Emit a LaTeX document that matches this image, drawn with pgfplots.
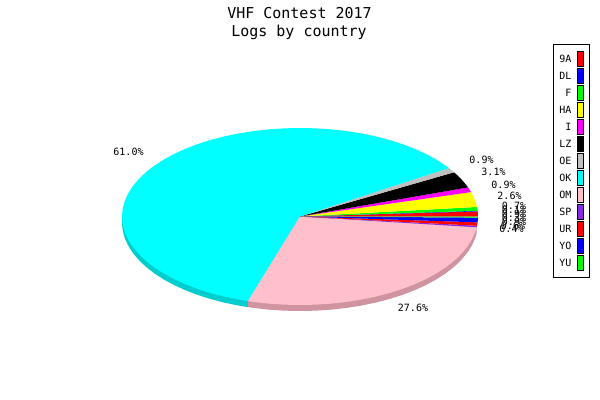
\documentclass[border=0pt]{standalone}
\usepackage{fontspec}
\setmainfont{DejaVu Sans Mono}
\usepackage{pgfplots}
\pgfplotsset{compat=1.18}
\definecolor{sidecyan}{RGB}{0,205,205}
\definecolor{sidepink}{RGB}{208,147,160}
\definecolor{ompink}{RGB}{255,192,203}
\definecolor{oegray}{RGB}{192,192,192}
\definecolor{sppurple}{RGB}{138,43,226}
\definecolor{pieRed}{RGB}{255,0,0}
\definecolor{pieBlue}{RGB}{0,0,255}
\definecolor{pieGreen}{RGB}{0,255,0}
\definecolor{pieYellow}{RGB}{255,255,0}
\definecolor{pieMagenta}{RGB}{255,0,255}
\definecolor{pieCyan}{RGB}{0,255,255}
\pgfplotsset{
  swatch/.style={legend image code/.code={
    \path (0pt,0pt);
    \draw[##1,draw=black,line width=0.75pt] (4.2pt,-5.6pt) rectangle (8.7pt,5.6pt);}},
  wedge/.style={fill=#1,draw=none,swatch},
}
\newcommand{\lab}[2]{\node[font=\fontsize{7.5}{9}\selectfont,inner sep=0pt] at (axis cs:#1) {#2\%};}
\begin{document}
\begin{tikzpicture}
\path[use as bounding box] (0,0) rectangle (450pt,300pt);
\begin{axis}[
    scale only axis,
    width=450pt,
    height=300pt,
    xmin=0, xmax=600,
    ymin=0, ymax=400,
    y dir=reverse,
    hide axis,
    clip=false,
    legend cell align=right,
    legend plot pos=right,
    legend style={
      at={(axis cs:590,43.5)}, anchor=north east,
      draw=black, line width=0.75pt, fill=white,
      inner xsep=4.5pt, inner ysep=4.7pt,
      row sep=0pt,
      font=\fontsize{7.5}{9}\selectfont,
      nodes={inner sep=0pt, text height=9.5pt, text depth=3.25pt},
    },
]
% side walls
\addplot[fill=sidecyan,draw=none,forget plot] coordinates {
  (122,222.5) (122.68,230.21) (124.70,237.87) (128.06,245.41) (132.74,252.77)
  (138.68,259.90) (145.85,266.75) (154.19,273.26) (163.64,279.39) (174.13,285.08)
  (185.58,290.29) (197.90,295.00) (211,299.14) (224.77,302.71) (239.12,305.66)
  (247.96,307.13) (247.96,301.13) (122,216.5)} --cycle;
\addplot[fill=sidepink,draw=none,forget plot] coordinates {
  (247.96,301.13) (247.96,307.13) (253.93,307.98) (269.09,309.66) (284.49,310.66)
  (300,311) (315.51,310.66) (330.91,309.66) (346.07,307.98) (360.88,305.66)
  (375.23,302.71) (389,299.14) (402.10,295.00) (414.42,290.29) (425.87,285.08)
  (436.36,279.39) (445.81,273.26) (454.15,266.75) (461.32,259.90) (467.26,252.77)
  (471.94,245.41) (475.30,237.87) (476.67,233.29) (476.67,227.29) (300,216.5)} --cycle;
% top face, one wedge per country
\addplot[wedge=pieRed] coordinates {(300,216.5) (478,216.5) (477.70,211.41)} --cycle;
\addlegendentry{9A}
\addplot[wedge=pieBlue] coordinates {(300,216.5) (477.70,211.41) (477.63,210.79)} --cycle;
\addlegendentry{DL}
\addplot[wedge=pieGreen] coordinates {(300,216.5) (477.63,210.79) (476.96,206.94)} --cycle;
\addlegendentry{F}
\addplot[wedge=pieYellow] coordinates {(300,216.5) (476.96,206.94) (475.30,201.13) (471.94,193.59) (471.10,192.11)} --cycle;
\addlegendentry{HA}
\addplot[wedge=pieMagenta] coordinates {(300,216.5) (471.10,192.11) (468.10,187.40)} --cycle;
\addlegendentry{I}
\addplot[wedge=black] coordinates {(300,216.5) (468.10,187.40) (467.26,186.23) (461.32,179.10) (454.15,172.25)} --cycle;
\addlegendentry{LZ}
\addplot[wedge=oegray] coordinates {(300,216.5) (454.15,172.25) (448.94,168.05)} --cycle;
\addlegendentry{OE}
\addplot[wedge=pieCyan] coordinates {
  (300,216.5) (448.94,168.05) (445.81,165.74) (436.36,159.61) (425.87,153.92) (414.42,148.71)
  (402.10,144.00) (389.00,139.86) (375.23,136.29) (360.88,133.34) (346.07,131.02)
  (330.91,129.34) (315.51,128.34) (300,128) (284.49,128.34) (269.09,129.34)
  (253.93,131.02) (239.12,133.34) (224.77,136.29) (211,139.86) (197.90,144.00)
  (185.58,148.71) (174.13,153.92) (163.64,159.61) (154.19,165.74) (145.85,172.25)
  (138.68,179.10) (132.74,186.23) (128.06,193.59) (124.70,201.13) (122.68,208.79)
  (122,216.5) (122.68,224.21) (124.70,231.87) (128.06,239.41) (132.74,246.77)
  (138.68,253.90) (145.85,260.75) (154.19,267.26) (163.64,273.39) (174.13,279.08)
  (185.58,284.29) (197.90,289.00) (211,293.14) (224.77,296.71) (239.12,299.66)
  (247.96,301.13)} --cycle;
\addlegendentry{OK}
\addplot[wedge=ompink] coordinates {
  (300,216.5) (247.96,301.13) (253.93,301.98) (269.09,303.66) (284.49,304.66) (300,305)
  (315.51,304.66) (330.91,303.66) (346.07,301.98) (360.88,299.66) (375.23,296.71)
  (389,293.14) (402.10,289.00) (414.42,284.29) (425.87,279.08) (436.36,273.39)
  (445.81,267.26) (454.15,260.75) (461.32,253.90) (467.26,246.77) (471.94,239.41)
  (475.30,231.87) (476.67,227.29)} --cycle;
\addlegendentry{OM}
\addplot[wedge=sppurple] coordinates {(300,216.5) (476.67,227.29) (477.02,225.75)} --cycle;
\addlegendentry{SP}
\addplot[wedge=pieRed] coordinates {(300,216.5) (477.02,225.75) (477.61,222.36)} --cycle;
\addlegendentry{UR}
\addplot[wedge=pieBlue] coordinates {(300,216.5) (477.61,222.36) (477.99,217.58)} --cycle;
\addlegendentry{YO}
\addplot[wedge=pieGreen] coordinates {(300,216.5) (477.99,217.58) (478,216.5)} --cycle;
\addlegendentry{YU}
% titles
\node[font=\fontsize{11.25}{13}\selectfont,inner sep=0pt] at (axis cs:299.5,13) {VHF Contest 2017};
\node[font=\fontsize{11.25}{13}\selectfont,inner sep=0pt] at (axis cs:299,32) {Logs by country};
% slice labels
\lab{128.5,152}{61.0}
\lab{413,308}{27.6}
\lab{481.5,160}{0.9}
\lab{493.5,172}{3.1}
\lab{503.5,184.5}{0.9}
\lab{509.5,195.5}{2.6}
\lab{514,206}{0.7}
\lab{514,210}{0.1}
\lab{514,214}{0.9}
\lab{514,218}{0.3}
\lab{514,221.5}{0.9}
\lab{513,225.5}{0.6}
\lab{511.5,229}{0.4}
\end{axis}
\end{tikzpicture}
\end{document}
